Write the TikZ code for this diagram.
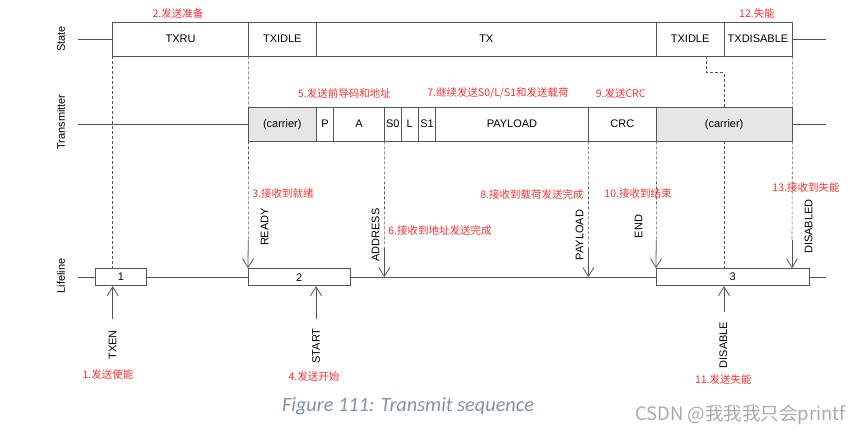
\documentclass[tikz,border=0pt]{standalone}
\usepackage{fontspec}
\setmainfont{Liberation Sans}
\newfontfamily\cjk{Noto Sans CJK SC}
\newfontfamily\capfont{Carlito}
\usetikzlibrary{arrows.meta}
\definecolor{ln}{RGB}{85,85,85}
\definecolor{rd}{RGB}{255,48,48}
\definecolor{capc}{RGB}{128,145,168}
\definecolor{wm}{RGB}{170,170,170}
\definecolor{carr}{RGB}{230,230,230}
\begin{document}
\begin{tikzpicture}[x=1pt,y=-1pt,
 base/.style={draw=ln, line width=0.8pt, inner sep=0pt, fill=white, font=\fontsize{11}{13}\selectfont},
 stbox/.style={base, minimum height=34},
 txbox/.style={base, minimum height=33.7},
 lfbox/.style={base, minimum height=17},
 carrier/.style={fill=carr},
 note/.style={text=rd, font=\cjk\fontsize{10.5}{12}\selectfont, inner sep=0pt},
 sig/.style={rotate=90, font=\fontsize{11}{13}\selectfont, inner sep=0pt},
 rowlab/.style={rotate=90, font=\fontsize{11}{13}\selectfont, inner sep=0pt},
 guide/.style={draw=ln, line width=0.6pt, dash pattern=on 3pt off 2pt},
 evt/.style={draw=ln, line width=0.8pt, -{Straight Barb[length=9pt,width=11pt]}},
 axis/.style={draw=ln, line width=0.8pt}]
\useasboundingbox (0,0) rectangle (865,436);

% axis coordinates
\coordinate (sL) at (78,39); \coordinate (sR) at (826,39);
\coordinate (tL) at (78,124.2); \coordinate (tR) at (826,124.2);
\coordinate (lL) at (78,277.2); \coordinate (lR) at (826,277.2);

\draw[axis] (lL) -- (lR);

% state row
\node[stbox, minimum width=135.6] (txru) at (180.5,39) {TXRU};
\node[stbox, minimum width=68] (idle1) at (282.3,39) {TXIDLE};
\node[stbox, minimum width=340] (tx) at (486.3,39) {TX};
\node[stbox, minimum width=67.7] (idle2) at (690.15,39) {TXIDLE};
\node[stbox, minimum width=68] (dis) at (758,39) {TXDISABLE};

% transmitter row
\node[txbox, carrier, minimum width=68] (car1) at (282.3,124.2) {(carrier)};
\node[txbox, minimum width=17.4] (p) at (325,124.2) {P};
\node[txbox, minimum width=50.6] (a) at (359,124.2) {A};
\node[txbox, minimum width=17] (s0) at (392.8,124.2) {S0};
\node[txbox, minimum width=17] (l) at (409.8,124.2) {L};
\node[txbox, minimum width=17.4] (s1) at (427,124.2) {S1};
\node[txbox, minimum width=152.6] (payload) at (512,124.2) {PAYLOAD};
\node[txbox, minimum width=68] (crc) at (622.3,124.2) {CRC};
\node[txbox, carrier, minimum width=135.7] (car2) at (724.15,124.2) {(carrier)};

\draw[axis] (sL) -- (txru.west);
\draw[axis] (dis.east) -- (sR);
\draw[axis] (tL) -- (car1.west);
\draw[axis] (car2.east) -- (tR);

% event coordinates
\coordinate (rdy) at (248.3,240);
\coordinate (adr) at (384.3,248);
\coordinate (adrE) at (384.3,277.2);
\coordinate (pld) at (588.3,249);
\coordinate (pldE) at (588.3,277.2);
\coordinate (endc) at (656.3,240);
\coordinate (dsd) at (792,240);
\coordinate (j1) at (706.7,56);
\coordinate (j2) at (706.7,72.7);
\coordinate (j3) at (724,72.7);
\coordinate (txen) at (112.7,319.3);
\coordinate (start) at (316,319.3);
\coordinate (disa) at (724,311.7);

% lifeline boxes positions (for guides)
\path (121,277.2) coordinate (b1c) (299.3,277.2) coordinate (b2c) (732.8,277.2) coordinate (b3c);

% guides
\draw[guide] (txru.south west) -- (txru.south west |- 0,268.7);
\draw[guide] (txru.south east) -- (rdy);
\draw[guide] (a.south east) -- (adr);
\draw[guide] (payload.south east) -- (pld);
\draw[guide] (crc.south east) -- (endc);
\draw[guide] (j1) -- (j2) -- (j3) -- (j3 |- car2.north);
\draw[guide] (car2.south) -- (car2.south |- 0,268.7);
\draw[guide] (dis.south east) -- (car2.north east);
\draw[guide] (car2.south east) -- (dsd);

% lifeline boxes
\node[lfbox, minimum width=51.4] (b1) at (b1c) {1};
\node[lfbox, minimum width=102] (b2) at (b2c) {2};
\node[lfbox, minimum width=153] (b3) at (b3c) {3};

% events
\draw[evt] (rdy) -- (b2.north west);
\draw[evt] (adr) -- (adrE);
\draw[evt] (pld) -- (pldE);
\draw[evt] (endc) -- (b3.north west);
\draw[evt] (dsd) -- (dsd |- b3.north);
\draw[evt] (txen) -- (txen |- b1.south);
\draw[evt] (start) -- (start |- b2.south);
\draw[evt] (disa) -- (disa |- b3.south);

% signal labels
\node[sig] (lready) at (264.5,227) {READY};
\node[sig] (laddr) at (375.5,235) {ADDRESS};
\node[sig] (lpay) at (579.5,235) {PAYLOAD};
\node[sig] (lend) at (638.5,226.5) {END};
\node[sig] (ldisd) at (808.5,226.5) {DISABLED};
\node[sig] (ltxen) at (112.7,345) {TXEN};
\node[sig] (lstart) at (316,346) {START};
\node[sig] (ldis) at (723.3,345) {DISABLE};

% row labels
\node[rowlab] (rstate) at (61,39) {State};
\node[rowlab] (rtx) at (61,122) {Transmitter};
\node[rowlab] (rlife) at (61,276) {Lifeline};

% red notes
\node[note] (n2) at (178,14) {2.发送准备};
\node[note] (n12) at (757,14) {12.失能};
\node[note] (n5) at (344.5,93.3) {5.发送前导码和地址};
\node[note] (n7) at (498,93.3) {7.继续发送S0/L/S1和发送载荷};
\node[note] (n9) at (620.7,93.3) {9.发送CRC};
\node[note] (n3) at (283,194) {3.接收到就绪};
\node[note] (n6) at (440,230) {6.接收到地址发送完成};
\node[note] (n8) at (532,194) {8.接收到载荷发送完成};
\node[note] (n10) at (638,194) {10.接收到结束};
\node[note] (n13) at (806,188) {13.接收到失能};
\node[note] (n1) at (108,375) {1.发送使能};
\node[note] (n4) at (314,377) {4.发送开始};
\node[note] (n11) at (723.3,380) {11.发送失能};

% caption and watermark
\node[font=\capfont\itshape\fontsize{20.3}{24}\selectfont, text=capc, inner sep=0pt] (cap) at (408,406.7) {Figure 111: Transmit sequence};
\node[font=\cjk\fontsize{18.5}{22}\selectfont, text=wm, inner sep=0pt] (wmk) at (740.5,415) {CSDN @我我我只会printf};
\end{tikzpicture}
\end{document}
